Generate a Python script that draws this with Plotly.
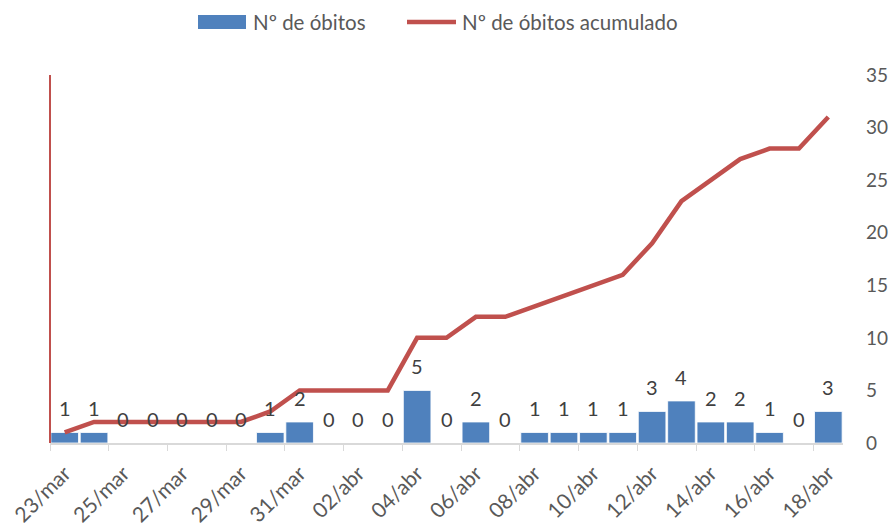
import plotly.graph_objects as go

dates = ["23/mar", "24/mar", "25/mar", "26/mar", "27/mar", "28/mar", "29/mar", "30/mar", "31/mar",
         "01/abr", "02/abr", "03/abr", "04/abr", "05/abr", "06/abr", "07/abr", "08/abr", "09/abr",
         "10/abr", "11/abr", "12/abr", "13/abr", "14/abr", "15/abr", "16/abr", "17/abr", "18/abr"]
obitos = [1, 1, 0, 0, 0, 0, 0, 1, 2, 0, 0, 0, 5, 0, 2, 0, 1, 1, 1, 1, 3, 4, 2, 2, 1, 0, 3]
acumulado = [1, 2, 2, 2, 2, 2, 2, 3, 5, 5, 5, 5, 10, 10, 12, 12, 13, 14, 15, 16, 19, 23, 25, 27, 28, 28, 31]
y_ticks = [0, 5, 10, 15, 20, 25, 30, 35]
series_names = ["Nº de óbitos", "Nº de óbitos acumulado"]

FONT = "Lato, Open Sans, sans-serif"
BLUE = "#4F81BD"
RED = "#C0504D"
TXT = "#595959"

W, H = 893, 532
ML, MR, MT, MB = 50, 50, 75, 89
PW, PH = W - ML - MR, H - MT - MB


def px(x):  # page pixel x -> paper
    return (x - ML) / PW


def py(y):  # page pixel y -> paper
    return 1 - (y - MT) / PH


fig = go.Figure()
fig.add_trace(go.Bar(x=dates, y=obitos, name=series_names[0], showlegend=False,
                     marker=dict(color=BLUE, line=dict(color="#FFFFFF", width=0.8))))
fig.add_trace(go.Scatter(x=dates, y=acumulado, name=series_names[1], mode="lines", showlegend=False,
                         line=dict(color=RED, width=4.5)))

for d, v in zip(dates, obitos):
    fig.add_annotation(x=d, y=v, text=str(v), showarrow=False, yanchor="middle", yshift=24,
                       font=dict(family=FONT, size=20, color="#404040"))

# left red axis line
fig.add_shape(type="line", xref="paper", yref="paper", x0=0, x1=0, y0=0, y1=1,
              line=dict(color=RED, width=2))

# custom legend (wide swatch like the reference)
fig.add_shape(type="rect", xref="paper", yref="paper", x0=px(198), x1=px(246), y0=py(29), y1=py(15),
              fillcolor=BLUE, line=dict(width=0))
fig.add_annotation(xref="paper", yref="paper", x=px(251), y=py(22), xanchor="left", yanchor="middle",
                   text=series_names[0], showarrow=False,
                   font=dict(family=FONT, size=20.5, color=TXT))
fig.add_shape(type="line", xref="paper", yref="paper", x0=px(407), x1=px(456), y0=py(22), y1=py(22),
              line=dict(color=RED, width=4.5))
fig.add_annotation(xref="paper", yref="paper", x=px(460), y=py(22), xanchor="left", yanchor="middle",
                   text=series_names[1], showarrow=False,
                   font=dict(family=FONT, size=20.5, color=TXT))

fig.update_layout(
    width=W, height=H,
    margin=dict(l=ML, r=MR, t=MT, b=MB),
    paper_bgcolor="white", plot_bgcolor="white",
    font=dict(family=FONT, color=TXT, size=18),
    bargap=0.06,
    showlegend=False,
    xaxis=dict(type="category", tickangle=-45, dtick=2, tickson="boundaries", ticks="outside",
               ticklen=6, tickcolor="#D9D9D9", showline=True, linecolor="#D9D9D9", linewidth=2,
               showgrid=False, automargin=False, ticklabelstandoff=8,
               tickfont=dict(size=21, color=TXT)),
    yaxis=dict(side="right", range=[0, 35], tickvals=y_ticks, showgrid=False, zeroline=False,
               showline=False, automargin=False, ticklabelstandoff=22,
               tickfont=dict(size=19, color=TXT)),
)
fig.write_html("out.html", config={"displayModeBar": False},
               post_script="document.body.style.margin='0';document.body.style.overflow='hidden';")
